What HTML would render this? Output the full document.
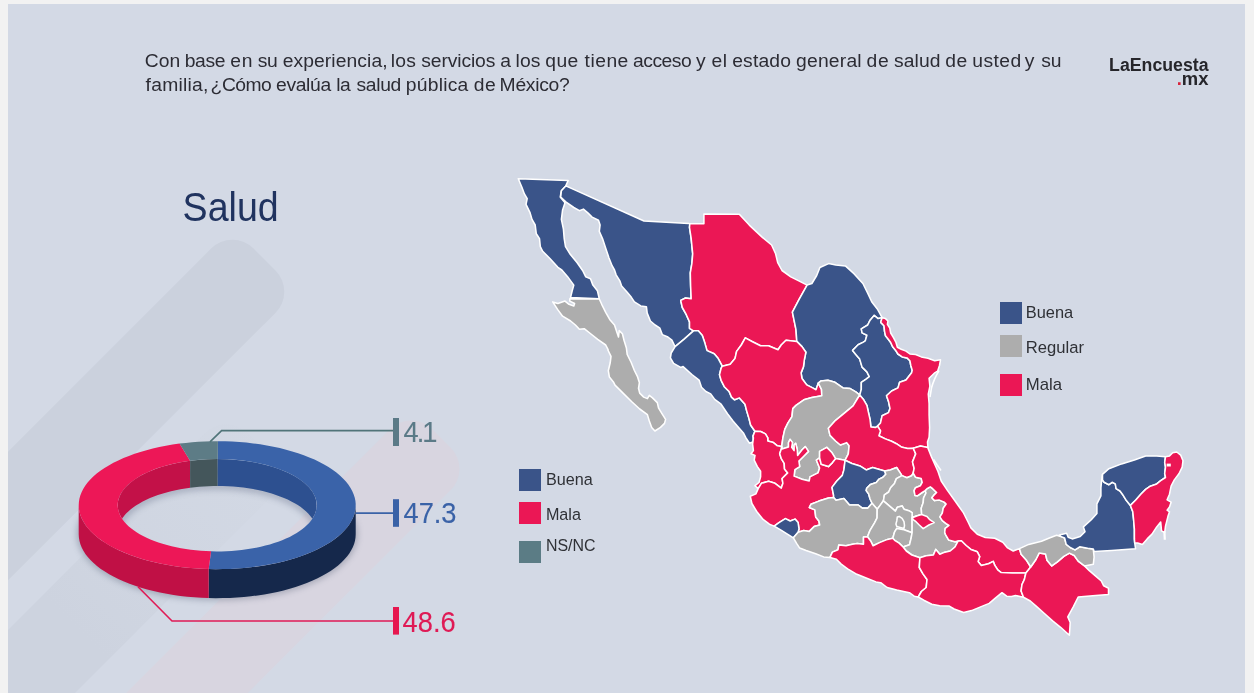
<!DOCTYPE html>
<html lang="es">
<head>
<meta charset="utf-8">
<title>Salud - LaEncuesta.mx</title>
<style>
html,body{margin:0;padding:0;}
body{width:1254px;height:693px;overflow:hidden;background:#f2f2f2;position:relative;font-family:"Liberation Sans",sans-serif;}
#panel{position:absolute;left:8px;top:4px;width:1237px;height:689px;background:#d3d9e5;overflow:hidden;}
#gfx{position:absolute;left:-8px;top:-4px;width:1254px;height:693px;display:block;}
</style>
</head>
<body>
<div id="panel">
<svg id="gfx" width="1254" height="693" viewBox="0 0 1254 693">
<defs><filter id="blur" x="-20%" y="-20%" width="140%" height="140%"><feGaussianBlur stdDeviation="3"/></filter></defs>
<g id="stripes"><defs><linearGradient id="gB" gradientUnits="userSpaceOnUse" x1="0" y1="0" x2="-260" y2="0"><stop offset="0" stop-color="#cfd5e0" stop-opacity="0.15"/><stop offset="1" stop-color="#cdd3df" stop-opacity="1"/></linearGradient></defs><rect x="-900" y="-45.5" width="900" height="91" rx="30" fill="#cbd1dd" opacity="1" transform="translate(264.5 259.5) rotate(-45)"/><rect x="-900" y="-46" width="900" height="92" rx="30" fill="url(#gB)" opacity="1" transform="translate(258.7 444.3) rotate(-45)"/><rect x="-900" y="-43" width="900" height="86" rx="30" fill="#d8d5e0" opacity="1" transform="translate(441.5 438.5) rotate(-45)"/></g>
<g id="donut">
<ellipse cx="217.2" cy="534.2" rx="136.5" ry="62" fill="none" stroke="#5a6378" stroke-width="8" opacity="0.4" filter="url(#blur)"/>
<path d="M355.7 505.2 L355.5 508.5 L355.0 511.7 L354.1 515.0 L352.8 518.2 L351.2 521.3 L349.3 524.5 L347.0 527.6 L344.3 530.6 L341.4 533.6 L338.1 536.4 L334.5 539.2 L330.6 542.0 L326.4 544.6 L321.9 547.1 L317.1 549.5 L312.1 551.8 L306.8 554.0 L301.3 556.0 L295.6 558.0 L289.7 559.7 L283.6 561.4 L277.3 562.9 L270.9 564.2 L264.3 565.4 L257.6 566.4 L250.8 567.3 L243.9 568.0 L236.9 568.5 L229.9 568.9 L222.9 569.1 L215.8 569.2 L208.7 569.1 L208.7 598.1 L215.8 598.2 L222.9 598.1 L229.9 597.9 L236.9 597.5 L243.9 597.0 L250.8 596.3 L257.6 595.4 L264.3 594.4 L270.9 593.2 L277.3 591.9 L283.6 590.4 L289.7 588.7 L295.6 587.0 L301.3 585.0 L306.8 583.0 L312.1 580.8 L317.1 578.5 L321.9 576.1 L326.4 573.6 L330.6 571.0 L334.5 568.2 L338.1 565.4 L341.4 562.6 L344.3 559.6 L347.0 556.6 L349.3 553.5 L351.2 550.3 L352.8 547.2 L354.1 544.0 L355.0 540.7 L355.5 537.5 L355.7 534.2Z" fill="#15284b"/>
<path d="M208.7 569.1 L201.6 568.8 L194.4 568.3 L187.3 567.7 L180.3 566.9 L173.5 565.9 L166.7 564.8 L160.0 563.5 L153.5 562.0 L147.2 560.4 L141.1 558.7 L135.2 556.8 L129.5 554.7 L124.0 552.6 L118.8 550.3 L113.9 547.8 L109.2 545.3 L104.9 542.6 L100.8 539.9 L97.0 537.0 L93.6 534.1 L90.5 531.1 L87.8 528.0 L85.4 524.9 L83.4 521.7 L81.7 518.4 L80.4 515.2 L79.5 511.9 L78.9 508.5 L78.7 505.2 L78.7 534.2 L78.9 537.5 L79.5 540.9 L80.4 544.2 L81.7 547.4 L83.4 550.7 L85.4 553.9 L87.8 557.0 L90.5 560.1 L93.6 563.1 L97.0 566.0 L100.8 568.9 L104.9 571.6 L109.2 574.3 L113.9 576.8 L118.8 579.3 L124.0 581.6 L129.5 583.7 L135.2 585.8 L141.1 587.7 L147.2 589.4 L153.5 591.0 L160.0 592.5 L166.7 593.8 L173.5 594.9 L180.3 595.9 L187.3 596.7 L194.4 597.3 L201.6 597.8 L208.7 598.1Z" fill="#c01045"/>
<clipPath id="hole"><ellipse cx="217.2" cy="505.2" rx="99.5" ry="46.2"/></clipPath>
<ellipse cx="217.2" cy="532.2" rx="99.5" ry="46.2" fill="none" stroke="#6f7890" stroke-width="7" opacity="0.45" filter="url(#blur)" clip-path="url(#hole)"/>
<path d="M117.7 503.2 L117.8 500.8 L118.2 498.4 L118.9 496.0 L119.8 493.7 L121.0 491.4 L122.5 489.1 L124.2 486.8 L126.1 484.6 L128.3 482.4 L130.8 480.3 L133.4 478.3 L136.3 476.3 L139.4 474.4 L142.7 472.6 L146.3 470.8 L150.0 469.1 L153.9 467.6 L157.9 466.1 L162.1 464.7 L166.5 463.5 L171.0 462.3 L175.6 461.2 L180.4 460.3 L185.2 459.5 L190.1 458.7 L190.1 487.7 L185.2 488.5 L180.4 489.3 L175.6 490.2 L171.0 491.3 L166.5 492.5 L162.1 493.7 L157.9 495.1 L153.9 496.6 L150.0 498.1 L146.3 499.8 L142.7 501.6 L139.4 503.4 L136.3 505.3 L133.4 507.3 L130.8 509.3 L128.3 511.4 L126.1 513.6 L124.2 515.8 L122.5 518.1 L121.0 520.4 L119.8 522.7 L118.9 525.0 L118.2 527.4 L117.8 529.8 L117.7 532.2Z" fill="#c31148" clip-path="url(#hole)"/>
<path d="M190.1 458.7 L194.6 458.2 L199.2 457.8 L203.8 457.4 L208.4 457.2 L213.1 457.0 L217.7 457.0 L217.7 486.0 L213.1 486.0 L208.4 486.2 L203.8 486.4 L199.2 486.8 L194.6 487.2 L190.1 487.7Z" fill="#44565b" clip-path="url(#hole)"/>
<path d="M217.7 457.0 L222.9 457.1 L228.1 457.3 L233.2 457.6 L238.3 458.1 L243.4 458.6 L248.3 459.3 L253.2 460.1 L258.0 461.1 L262.7 462.1 L267.3 463.3 L271.7 464.5 L275.9 465.9 L280.0 467.4 L284.0 469.0 L287.7 470.6 L291.3 472.4 L294.7 474.2 L297.8 476.1 L300.8 478.1 L303.5 480.2 L305.9 482.3 L308.2 484.5 L310.1 486.7 L311.9 489.0 L313.3 491.3 L314.5 493.6 L315.5 496.0 L316.2 498.4 L316.6 500.8 L316.7 503.2 L316.7 532.2 L316.6 529.8 L316.2 527.4 L315.5 525.0 L314.5 522.6 L313.3 520.3 L311.9 518.0 L310.1 515.7 L308.2 513.5 L305.9 511.3 L303.5 509.2 L300.8 507.1 L297.8 505.1 L294.7 503.2 L291.3 501.4 L287.7 499.6 L284.0 498.0 L280.0 496.4 L275.9 494.9 L271.7 493.5 L267.3 492.3 L262.7 491.1 L258.0 490.1 L253.2 489.1 L248.3 488.3 L243.4 487.6 L238.3 487.1 L233.2 486.6 L228.1 486.3 L222.9 486.1 L217.7 486.0Z" fill="#2d5090" clip-path="url(#hole)"/>
<path d="M217.9 441.2 L225.1 441.3 L232.2 441.6 L239.3 442.0 L246.3 442.6 L253.2 443.4 L260.1 444.3 L266.8 445.4 L273.4 446.7 L279.8 448.1 L286.1 449.7 L292.2 451.4 L298.1 453.3 L303.8 455.3 L309.3 457.4 L314.5 459.6 L319.4 462.0 L324.1 464.5 L328.5 467.1 L332.6 469.8 L336.4 472.6 L339.9 475.5 L343.0 478.5 L345.9 481.5 L348.3 484.6 L350.4 487.7 L352.2 490.9 L353.6 494.2 L354.7 497.4 L355.4 500.7 L355.7 504.0 L355.6 507.3 L355.2 510.6 L354.4 513.9 L353.3 517.2 L351.7 520.4 L349.9 523.6 L347.7 526.7 L345.1 529.8 L342.2 532.8 L338.9 535.7 L335.4 538.6 L331.5 541.4 L327.3 544.0 L322.8 546.6 L318.0 549.1 L313.0 551.4 L307.7 553.6 L302.2 555.7 L296.5 557.7 L290.5 559.5 L284.4 561.2 L278.0 562.7 L271.5 564.1 L264.9 565.3 L258.1 566.3 L251.2 567.2 L244.3 568.0 L237.2 568.5 L230.1 568.9 L223.0 569.1 L215.9 569.2 L208.7 569.1 L211.1 551.3 L216.3 551.4 L221.4 551.4 L226.5 551.2 L231.6 550.9 L236.7 550.5 L241.7 550.0 L246.6 549.3 L251.5 548.6 L256.2 547.7 L260.9 546.7 L265.4 545.6 L269.9 544.4 L274.1 543.1 L278.3 541.7 L282.2 540.2 L286.0 538.6 L289.7 536.9 L293.1 535.1 L296.3 533.2 L299.3 531.3 L302.1 529.3 L304.6 527.2 L307.0 525.1 L309.1 522.9 L310.9 520.7 L312.5 518.5 L313.9 516.2 L314.9 513.8 L315.8 511.5 L316.3 509.1 L316.6 506.7 L316.7 504.3 L316.5 502.0 L316.0 499.6 L315.2 497.2 L314.2 494.9 L312.9 492.6 L311.4 490.3 L309.6 488.1 L307.6 485.9 L305.3 483.8 L302.8 481.7 L300.1 479.7 L297.2 477.7 L294.0 475.8 L290.6 474.0 L287.1 472.3 L283.3 470.7 L279.4 469.2 L275.3 467.7 L271.1 466.4 L266.7 465.1 L262.2 464.0 L257.6 463.0 L252.8 462.1 L248.0 461.3 L243.1 460.6 L238.1 460.0 L233.0 459.6 L228.0 459.3 L222.8 459.1 L217.7 459.0Z" fill="#3a63a9"/>
<path d="M208.7 569.1 L201.6 568.8 L194.5 568.3 L187.4 567.7 L180.4 566.9 L173.5 565.9 L166.8 564.8 L160.1 563.5 L153.7 562.1 L147.4 560.5 L141.2 558.7 L135.3 556.8 L129.6 554.8 L124.2 552.6 L119.0 550.3 L114.1 547.9 L109.4 545.4 L105.0 542.7 L101.0 540.0 L97.2 537.2 L93.8 534.2 L90.7 531.2 L87.9 528.2 L85.5 525.0 L83.5 521.8 L81.8 518.6 L80.5 515.4 L79.5 512.1 L78.9 508.7 L78.7 505.4 L78.9 502.1 L79.4 498.8 L80.3 495.5 L81.6 492.2 L83.2 489.0 L85.2 485.8 L87.6 482.6 L90.3 479.6 L93.3 476.6 L96.7 473.6 L100.4 470.8 L104.5 468.0 L108.8 465.4 L113.4 462.8 L118.3 460.4 L123.5 458.1 L128.9 455.9 L134.6 453.8 L140.4 451.9 L146.5 450.2 L152.8 448.5 L159.3 447.1 L165.9 445.8 L172.6 444.6 L179.5 443.6 L190.1 460.7 L185.2 461.5 L180.3 462.3 L175.6 463.2 L170.9 464.3 L166.4 465.5 L162.1 466.7 L157.8 468.1 L153.8 469.6 L149.9 471.2 L146.2 472.9 L142.6 474.6 L139.3 476.4 L136.2 478.4 L133.3 480.4 L130.7 482.4 L128.2 484.5 L126.0 486.7 L124.1 488.9 L122.4 491.2 L120.9 493.5 L119.8 495.8 L118.9 498.2 L118.2 500.6 L117.8 503.0 L117.7 505.4 L117.9 507.8 L118.3 510.1 L119.0 512.5 L119.9 514.9 L121.1 517.2 L122.6 519.5 L124.3 521.8 L126.3 524.0 L128.5 526.2 L131.0 528.3 L133.7 530.3 L136.6 532.3 L139.7 534.2 L143.1 536.0 L146.6 537.8 L150.4 539.4 L154.3 541.0 L158.4 542.5 L162.6 543.8 L167.0 545.1 L171.6 546.3 L176.2 547.3 L181.0 548.2 L185.8 549.0 L190.8 549.7 L195.8 550.3 L200.9 550.8 L206.0 551.1 L211.1 551.3Z" fill="#ed1757"/>
<path d="M179.5 443.6 L185.8 442.9 L192.1 442.3 L198.5 441.8 L205.0 441.5 L211.4 441.3 L217.9 441.2 L217.7 459.0 L213.1 459.0 L208.4 459.2 L203.8 459.4 L199.2 459.8 L194.6 460.2 L190.1 460.7Z" fill="#5d7c86"/>
</g>
<g id="leaders" fill="none" stroke-width="1.6">
<path d="M210 441.8 L221.6 430.6 H394" stroke="#507479"/>
<path d="M355.5 513.1 H394" stroke="#3a62a7"/>
<path d="M138 586.8 L172 621 H394" stroke="#e01a55"/>
</g>
<rect x="393" y="418" width="6" height="28" fill="#5b7a87"/>
<rect x="393" y="499.2" width="6" height="27.6" fill="#3a62a7"/>
<rect x="393" y="607" width="6" height="27.6" fill="#e6174f"/>
<g id="map" stroke="#ffffff" stroke-width="1.55" stroke-linejoin="round">
<path fill="#3a5489" d="M518.3 178.8 L568.2 180.4 L565.8 185.9 L561.4 190.7 L560.2 197.1 L565 202.7 L562.6 209.9 L561.4 219.4 L563.4 229 L564.2 238.6 L565.5 246.6 L569.8 253.7 L577 262.5 L582.6 270.5 L585.8 276.9 L590.5 278.8 L592.9 285.1 L597.4 290.7 L599.3 298.7 L570.6 297.4 L572.2 290.7 L573.8 285.1 L567.4 276.4 L561.8 270 L557.9 267.3 L549.9 258.5 L542.7 251.3 L540.3 246.6 L539.5 238.6 L536.3 233.8 L535.2 225 L532 219.4 L529.9 212.3 L526 204.3 L527.2 198.7 L524.4 193.9 L522 187.5Z"></path>
<path fill="#adadad" d="M552.7 301.9 L557.9 303.5 L565 301.1 L569 304.3 L573.8 305.9 L574.6 303.5 L569.8 301.1 L569.8 298.7 L599.3 299 L601.7 304.3 L605.7 312.3 L609.7 319.4 L614.5 325 L616.9 332.2 L618.5 337 L619.2 330.6 L622.4 333.8 L624 340.2 L626.4 348.1 L627.2 354.5 L631.2 362.5 L634.4 370.5 L637.6 376.9 L639.4 382.7 L638.5 388.3 L639.7 393.1 L643.7 397.1 L647.4 398.6 L649.3 395.4 L652.5 397.9 L657.3 402.6 L658.6 408.2 L662.1 413.8 L665.6 419.4 L664.5 423.4 L660.5 427.4 L654.9 431 L651.7 427.4 L649.3 421 L647.4 414.6 L639.7 409 L631.8 401.8 L623.8 393.9 L615 385.1 L613.4 381.9 L609.4 377.1 L608.3 370.7 L610.2 362.8 L611 356.4 L607.9 350 L608.1 349.7 L605.7 345 L597.7 339.4 L589.7 333 L584.2 328.7 L579.4 329.3 L575.4 325 L570.6 321 L562.6 316.2 L557.9 309.9Z"></path>
<path fill="#3a5489" d="M565.8 185.9 L644 221 L688.6 223.4 L689.8 223.7 L689.5 227.5 L691.1 237.8 L692.7 253.8 L691.9 263.4 L690.3 272.9 L690.6 285.7 L691.1 296.9 L691.1 298.8 L685.5 298 L680.7 300.4 L682.3 307.5 L686.3 314.7 L689.5 321.9 L689.5 328.3 L693.5 330.8 L683.9 339.4 L675.1 346.6 L675.1 346.6 L674.3 345 L671.9 340.2 L667.9 337 L662.3 334.6 L659.9 328.2 L655.1 325 L650.4 321 L647.2 313.1 L646.4 306.7 L640.8 305.9 L634.4 301.9 L631.2 297.1 L627.2 292.3 L621.6 285.9 L620 281.2 L616.1 274.8 L614.5 270 L612.1 265.7 L608.9 257.7 L605.7 248.2 L602.5 238.6 L599.3 231.4 L600.1 225 L598.5 220.2 L592.1 217.1 L588.1 213.1 L583.4 209.1 L579.4 210.7 L573.8 207.5 L565.8 201.9 L560.7 197.1 L561.4 190.7 L565.8 185.9Z"></path>
<path fill="#eb1755" d="M689.8 223.7 L703.9 223.8 L703.9 213.9 L739.3 214.2 L749.3 225.1 L762.1 237.1 L771.6 245 L775.6 253.8 L777.7 262.6 L782 270.5 L790.8 276.9 L798.8 280.9 L807.1 285.1 L799.1 299.4 L792.4 312.2 L796 329.7 L796.8 341.4 L786 340.2 L781.2 345 L778 349.8 L768.5 345.8 L760.5 345.8 L752.5 341.8 L745.3 337.9 L741.3 345 L736.6 351.4 L735 358.6 L730.2 364.2 L722.2 366.2 L718.2 358.6 L714.2 353.8 L707 350.6 L704.7 342.6 L702.3 335.4 L698.3 330.7 L693.5 330.8 L689.5 328.3 L689.5 321.9 L686.3 314.7 L682.3 307.5 L680.7 300.4 L685.5 298 L691.1 298.8 L691.1 296.9 L690.6 285.7 L690.3 272.9 L691.9 263.4 L692.7 253.8 L691.1 237.8 L689.5 227.5 L689.8 223.7Z"></path>
<path fill="#3a5489" d="M807.1 285.1 L811.9 283.5 L816.7 275.5 L819.9 267.5 L828.6 263.6 L835.8 265.1 L845.4 265.9 L854.2 273.9 L862.9 283.5 L867.7 293.1 L871.7 301.8 L877.3 309 L882.1 317.7 L878.1 318.6 L874.1 315.4 L870.1 320.2 L867.7 325 L861.3 328.9 L862.1 332.9 L866.9 335.3 L865.3 340.9 L862.9 342.4 L858.1 344.8 L852.6 350.4 L855.8 354.4 L859.7 359.1 L862.1 367.1 L866.9 371.9 L869.3 376.7 L866.1 379.1 L861.3 382.3 L861.3 389.4 L859.7 395 L855.8 391.8 L850.2 388.6 L843 387.9 L835 382.3 L827.9 380.2 L820.7 381.1 L818.3 383.1 L816 389.7 L813.1 388.1 L806.7 384.9 L802 378.5 L801.1 372.9 L803.5 366.6 L804.3 360.2 L805.9 352.2 L802 346.6 L796.8 341.4 L796 329.7 L792.4 312.2 L799.1 299.4 L807.1 285.1Z"></path>
<path fill="#3a5489" d="M882.1 317.7 L880.7 322.4 L884 325.8 L884.5 331.1 L885.5 335.8 L887.9 338.7 L890.7 342.5 L892.6 346.8 L895.5 350.2 L897.9 354 L902.2 356.9 L907 357.9 L909.9 360.7 L910.8 365.5 L912.2 370.3 L911.6 372.7 L906 379.9 L899.6 382.3 L898 387.9 L891.6 391 L886.5 395.8 L888.5 401.4 L890 408.6 L888.5 412.6 L882.1 415.8 L880.5 422.9 L877.6 426.1 L875.7 427.4 L870.9 426.9 L870.1 419.7 L868.5 412.6 L866.9 405.4 L863.7 399.8 L859.7 395 L861.3 389.4 L861.3 382.3 L866.1 379.1 L869.3 376.7 L866.9 371.9 L862.1 367.1 L859.7 359.1 L855.8 354.4 L852.6 350.4 L858.1 344.8 L862.9 342.4 L865.3 340.9 L866.9 335.3 L862.1 332.9 L861.3 328.9 L867.7 325 L870.1 320.2 L874.1 315.4 L878.1 318.6 L882.1 317.7Z"></path>
<path fill="#eb1755" d="M882.1 317.7 L885.5 318.6 L887.9 321 L887.4 324.4 L889.8 328.2 L890.7 333 L893.6 337.8 L896 342.5 L897.4 347.3 L901.2 349.2 L906 351.1 L909.9 354 L915.6 354.5 L921.3 356.9 L928 358.3 L934.7 360.7 L940.5 359.8 L939.5 365.5 L937.6 371.2 L934.3 373.2 L929.1 378.3 L929.9 386.2 L928.3 394.2 L929.1 403.8 L929.1 415 L929.6 427.7 L929.1 437.3 L927.5 442.1 L928 448.4 L927.7 447.5 L920.5 445.9 L913.3 448.3 L907.6 448.4 L901.2 446.9 L896.4 443.7 L891.6 441.3 L885.3 438.9 L878.9 435.7 L880.5 430.9 L877.6 426.1 L880.5 422.9 L882.1 415.8 L888.5 412.6 L890 408.6 L888.5 401.4 L886.5 395.8 L891.6 391 L898 387.9 L899.6 382.3 L906 379.9 L911.6 372.7 L912.2 370.3 L910.8 365.5 L909.9 360.7 L907 357.9 L902.2 356.9 L897.9 354 L895.5 350.2 L892.6 346.8 L890.7 342.5 L887.9 338.7 L885.5 335.8 L884.5 331.1 L884 325.8 L880.7 322.4 L882.1 317.7Z"></path>
<path fill="#3a5489" d="M675.1 346.6 L671.2 353 L670.4 357.8 L673.6 363.4 L680.7 367.4 L683.1 366.6 L691.9 374.5 L699.1 380.1 L701.5 387.3 L705.9 391.5 L710.7 393.9 L714.7 399.4 L721.1 404.2 L727.5 413.8 L733 421 L738.6 427.4 L743.4 432.9 L745.8 437.7 L749.5 443.3 L753.3 441.7 L753 436.1 L754.9 431.3 L750.6 425 L749 418.6 L746.6 410.6 L745 404.2 L739.4 397.9 L734.6 399.8 L731.5 397.1 L729.1 391.5 L724.3 386.7 L721.1 380.3 L719.5 374.7 L721.1 368.3 L722.2 366.2 L718.2 358.6 L714.2 353.8 L707 350.6 L704.7 342.6 L702.3 335.4 L698.3 330.7 L693.5 330.8 L683.9 339.4 L675.1 346.6Z"></path>
<path fill="#eb1755" d="M796.8 341.4 L802 346.6 L805.9 352.2 L804.3 360.2 L803.5 366.6 L801.1 372.9 L802 378.5 L806.7 384.9 L813.1 388.1 L816 389.7 L818.3 383.1 L821.5 389.4 L821.8 395.8 L811.9 397.4 L803.9 399.8 L796 405.4 L792.8 408.6 L792 416.6 L788 422.9 L784.8 429.3 L782.9 437.9 L781.7 446.6 L777.4 445.8 L773.4 442.6 L767.8 441 L767.8 437.9 L765.4 433.9 L760.6 431.5 L754.9 431.3 L750.6 425 L749 418.6 L746.6 410.6 L745 404.2 L739.4 397.9 L734.6 399.8 L731.5 397.1 L729.1 391.5 L724.3 386.7 L721.1 380.3 L719.5 374.7 L721.1 368.3 L722.2 366.2 L730.2 364.2 L735 358.6 L736.6 351.4 L741.3 345 L745.3 337.9 L752.5 341.8 L760.5 345.8 L768.5 345.8 L778 349.8 L781.2 345 L786 340.2 L796.8 341.4Z"></path>
<path fill="#adadad" d="M818.3 383.1 L820.7 381.1 L827.9 380.2 L835 382.3 L843 387.9 L850.2 388.6 L855.8 391.8 L859.7 395 L853.1 405.9 L843.5 413.9 L835.6 420.3 L828.4 428.3 L830 435.4 L835.6 441 L840.4 445 L846.7 442.6 L849.1 445.8 L848.3 453.8 L845.1 460.2 L835.6 458.6 L831.6 452.2 L826.8 447.4 L819.6 451.4 L819.6 457.8 L816.4 460.2 L819.6 468.1 L818 472.9 L810 476.9 L809.2 480.9 L802.1 479.3 L794.1 476.1 L794.9 469.7 L799.7 466.6 L798.9 461 L803.7 456.2 L808.5 451.4 L805.3 446.6 L802.1 449.8 L797.6 455.4 L797.3 449.8 L795.7 443.4 L794.1 445 L794.1 450.6 L791.7 447.4 L792.5 442.6 L790.1 439.4 L788.5 442.6 L788.5 447.1 L782.1 449 L781.7 446.6 L782.9 437.9 L784.8 429.3 L788 422.9 L792 416.6 L792.8 408.6 L796 405.4 L803.9 399.8 L811.9 397.4 L821.8 395.8 L821.5 389.4 L818.3 383.1Z"></path>
<path fill="#eb1755" d="M859.7 395 L863.7 399.8 L866.9 405.4 L868.5 412.6 L870.1 419.7 L870.9 426.9 L875.7 427.4 L877.6 426.1 L880.5 430.9 L878.9 435.7 L885.3 438.9 L891.6 441.3 L896.4 443.7 L901.2 446.9 L907.6 448.4 L913.3 448.3 L915.7 453.9 L912.5 461.9 L914.1 468.3 L913.2 473.1 L911.7 475.7 L906.9 477.7 L901.9 475.6 L900.2 472.9 L896.6 467.5 L890.2 469.9 L884.7 471.1 L872.6 467.5 L866.2 469.9 L859.9 465.9 L851.9 463.5 L845.1 460.2 L848.3 453.8 L849.1 445.8 L846.7 442.6 L840.4 445 L835.6 441 L830 435.4 L828.4 428.3 L835.6 420.3 L843.5 413.9 L853.1 405.9 L859.7 395Z"></path>
<path fill="#eb1755" d="M753 436.1 L753.4 437.9 L752.6 444.2 L753.4 450.6 L751 453.8 L755 455.4 L754.2 460.2 L757.4 466.6 L760.6 471.3 L760.6 476.9 L759 482.5 L755 485.7 L758.2 488.6 L761.4 483.3 L768.6 481.2 L775 483.3 L781.3 488.1 L782.9 483.3 L782.1 478.5 L787.7 472.9 L784.5 468.9 L784.2 463.4 L781.3 458.6 L779.7 453.8 L781.3 449 L781.7 446.6 L777.4 445.8 L773.4 442.6 L767.8 441 L767.8 437.9 L765.4 433.9 L760.6 431.5 L754.9 431.3 L753 436.1Z"></path>
<path fill="#eb1755" d="M781.7 446.6 L782.1 449 L788.5 447.1 L788.5 442.6 L790.1 439.4 L792.5 442.6 L791.7 447.4 L794.1 450.6 L794.1 445 L795.7 443.4 L797.3 449.8 L797.6 455.4 L802.1 449.8 L805.3 446.6 L808.5 451.4 L803.7 456.2 L798.9 461 L799.7 466.6 L794.9 469.7 L794.1 476.1 L802.1 479.3 L809.2 480.9 L810 476.9 L818 472.9 L819.6 468.1 L816.4 460.2 L819.6 457.8 L821.2 464.2 L828.4 466.6 L832.4 462.6 L835.6 458.6 L845.1 460.2 L843.9 469.9 L842.3 475.4 L836.8 481 L832 487.4 L833.6 495.4 L833.6 497.4 L828.5 497.9 L818.9 501.1 L810.9 504.3 L809.3 507.5 L814.9 509.9 L815.7 517 L818.9 521 L819.7 525 L814.1 526.6 L809.3 531.4 L803.7 530.6 L798.1 532.2 L799 529 L798.1 522.6 L795 519.1 L790.2 521 L785.4 518.6 L779 522.6 L774.2 526.1 L769.4 524.2 L763.1 519.4 L756.7 511.5 L751.9 503.5 L750.3 496.3 L755.9 493.9 L758.2 488.6 L761.4 483.3 L768.6 481.2 L775 483.3 L781.3 488.1 L782.9 483.3 L782.1 478.5 L787.7 472.9 L784.5 468.9 L784.2 463.4 L781.3 458.6 L779.7 453.8 L781.3 449 L781.7 446.6Z"></path>
<path fill="#eb1755" d="M835.6 458.6 L831.6 452.2 L826.8 447.4 L819.6 451.4 L819.6 457.8 L821.2 464.2 L828.4 466.6 L832.4 462.6 L835.6 458.6Z"></path>
<path fill="#3a5489" d="M845.1 460.2 L851.9 463.5 L859.9 465.9 L866.2 469.9 L872.6 467.5 L884.7 471.1 L885.8 474.3 L883 477.2 L879.1 479.1 L876.3 482.4 L870.5 484.4 L866.7 488.2 L866.2 490.6 L868.6 493.9 L870 498.7 L872 503.3 L867.9 508.1 L862.3 508.1 L858.3 505 L849.5 505 L843.9 498.6 L836 500.2 L833.6 497.4 L833.6 495.4 L832 487.4 L836.8 481 L842.3 475.4 L843.9 469.9 L845.1 460.2Z"></path>
<path fill="#adadad" d="M884.7 471.1 L890.2 469.9 L896.6 467.5 L900.2 472.9 L901.9 475.6 L896.4 478.6 L894.5 483.4 L890.6 487.7 L888.7 492 L884.4 494.9 L883.4 500.8 L880.1 505.4 L877.2 509.2 L872 503.3 L870 498.7 L868.6 493.9 L866.2 490.6 L866.7 488.2 L870.5 484.4 L876.3 482.4 L879.1 479.1 L883 477.2 L885.8 474.3 L884.7 471.1Z"></path>
<path fill="#adadad" d="M901.9 475.6 L906.9 477.7 L911.7 475.7 L913.2 473.1 L915.5 477.2 L921.2 478.6 L922.2 482.4 L920.3 485.8 L915.5 487.7 L914.1 490.6 L915 495.4 L917.4 495.8 L922.2 492.5 L925.1 490.6 L926 493 L923.6 497.8 L923.2 502.5 L921.2 508.3 L921.7 514.6 L917.4 515.7 L912.1 517.6 L912.1 512.6 L908.8 510.7 L904 509.2 L902.1 505.9 L897.3 507.3 L895.4 511.1 L888.7 505.4 L883.4 500.8 L884.4 494.9 L888.7 492 L890.6 487.7 L894.5 483.4 L896.4 478.6 L901.9 475.6Z"></path>
<path fill="#3a5489" d="M774.2 526.1 L779 522.6 L785.4 518.6 L790.2 521 L795 519.1 L798.1 522.6 L799 529 L798.1 532.2 L793.4 537.8 L787 533.8 L780.6 529.8 L774.2 526.1Z"></path>
<path fill="#adadad" d="M833.6 497.4 L836 500.2 L843.9 498.6 L849.5 505 L858.3 505 L862.3 508.1 L867.9 508.1 L872 503.3 L877.2 509.2 L877.1 517.9 L874.7 522.6 L869.9 530.6 L867.5 536.7 L863.5 537 L863.5 544.2 L857.2 543.4 L852.4 544.2 L846 545.8 L838.8 545 L838 549.7 L832.4 552.1 L830 557.4 L823.7 556.9 L815.7 553.7 L806.1 550.5 L799.7 548.1 L796.6 543.4 L793.4 537.8 L798.1 532.2 L803.7 530.6 L809.3 531.4 L814.1 526.6 L819.7 525 L818.9 521 L815.7 517 L814.9 509.9 L809.3 507.5 L810.9 504.3 L818.9 501.1 L828.5 497.9 L833.6 497.4Z"></path>
<path fill="#adadad" d="M877.2 509.2 L880.1 505.4 L883.4 500.8 L888.7 505.4 L895.4 511.1 L897.3 507.3 L902.1 505.9 L904 509.2 L908.8 510.7 L912.1 512.6 L912.1 517.6 L912.1 523.6 L912.1 529.3 L912.1 532.7 L904 529.8 L896.8 528.4 L894.5 532.2 L892.8 538.3 L887.5 539.4 L879.5 542.6 L873.1 545.8 L870.7 541 L867.5 536.7 L869.9 530.6 L874.7 522.6 L877.1 517.9 L877.2 509.2Z"></path>
<path fill="#adadad" d="M892.8 538.3 L894.5 532.2 L896.8 528.4 L904 529.8 L912.1 532.7 L911.1 538.3 L909.5 544.7 L903.1 547 L899.1 543.1 L895.1 540.7 L892.8 538.3Z"></path>
<path fill="#adadad" d="M921.7 514.6 L921.2 508.3 L923.2 502.5 L923.6 497.8 L926 493 L925.1 490.6 L927 488.7 L930.3 486.8 L932.7 488.7 L936.6 492.5 L933.7 495.4 L931.8 497.8 L934.6 500.6 L939.4 500.1 L944.2 502.1 L946.1 504 L943.2 508.3 L942.3 513.1 L939.9 516.9 L942.3 520.7 L946.1 523.6 L949 525.5 L945.2 528.4 L944.7 532.2 L945.4 534.3 L948.6 539.9 L955 541.8 L958.1 541.1 L955 547 L950.2 551 L943.8 552.6 L939.8 554.2 L935.8 549.4 L933.4 555 L926.2 555.8 L919.9 557.7 L911.9 555 L906.3 551 L903.1 547 L909.5 544.7 L911.1 538.3 L912.1 532.7 L912.1 529.3 L912.1 523.6 L912.1 517.6 L917.4 515.7 L921.7 514.6Z"></path>
<path fill="#eb1755" d="M927.7 447.5 L931.6 457.1 L938 471.5 L941.2 481 L947.6 490.6 L955.6 501.8 L963.5 512.9 L968.3 522.5 L970.9 527.9 L977.3 534.3 L985.3 537.5 L994.8 538.3 L1002.8 542.3 L1007.6 547.9 L1013.2 551 L1019.5 548.6 L1021.1 554.2 L1026.7 560.6 L1030.7 567 L1025.9 573 L1012.4 573 L1001.2 572.6 L998 570.2 L994.8 565.4 L993.2 561.4 L988.5 563.8 L981.3 565.4 L978.1 561.4 L979.7 556.6 L977.3 551.8 L970.9 549.4 L966.1 545.5 L961.3 540.7 L958.1 541.1 L955 541.8 L948.6 539.9 L945.4 534.3 L944.7 532.2 L945.2 528.4 L949 525.5 L946.1 523.6 L942.3 520.7 L939.9 516.9 L942.3 513.1 L943.2 508.3 L946.1 504 L944.2 502.1 L939.4 500.1 L934.6 500.6 L931.8 497.8 L933.7 495.4 L936.6 492.5 L932.7 488.7 L930.3 486.8 L927 488.7 L925.1 490.6 L922.2 492.5 L917.4 495.8 L915 495.4 L914.1 490.6 L915.5 487.7 L920.3 485.8 L922.2 482.4 L921.2 478.6 L915.5 477.2 L913.2 473.1 L914.1 468.3 L912.5 461.9 L915.7 453.9 L913.3 448.3 L920.5 445.9 L927.7 447.5Z"></path>
<path fill="#eb1755" d="M830 557.4 L832.4 552.1 L838 549.7 L838.8 545 L846 545.8 L852.4 544.2 L857.2 543.4 L863.5 544.2 L863.5 537 L867.5 536.7 L870.7 541 L873.1 545.8 L879.5 542.6 L887.5 539.4 L892.8 538.3 L895.1 540.7 L899.1 543.1 L903.1 547 L906.3 551 L911.9 555 L919.9 557.7 L919.3 567.5 L923 573.9 L927 579.5 L926.2 587.5 L921.4 591.5 L918.2 597 L914.2 596.2 L909.4 592.7 L896.7 589.9 L887.1 587.5 L880.7 582.7 L876 581.9 L868 578.7 L860 575.5 L855.6 573.7 L847.6 568.9 L841.2 564.1 L836.4 559.3 L830 557.4Z"></path>
<path fill="#eb1755" d="M919.9 557.7 L926.2 555.8 L933.4 555 L935.8 549.4 L939.8 554.2 L943.8 552.6 L950.2 551 L955 547 L958.1 541.1 L961.3 540.7 L966.1 545.5 L970.9 549.4 L977.3 551.8 L979.7 556.6 L978.1 561.4 L981.3 565.4 L988.5 563.8 L993.2 561.4 L994.8 565.4 L998 570.2 L1001.2 572.6 L1012.4 573 L1025.9 573 L1024.3 579.7 L1022 584.5 L1021.1 590.9 L1023.5 597.3 L1015.5 595.5 L1011.5 596.6 L1006.7 596.2 L1002 592.7 L995.6 597.9 L989.2 603.4 L981.2 606.6 L971.6 610.6 L963.7 612.5 L954.1 609 L949.3 606.1 L939.7 605.8 L931.8 604.2 L923.8 600.2 L918.2 597 L921.4 591.5 L926.2 587.5 L927 579.5 L923 573.9 L919.3 567.5 L919.9 557.7Z"></path>
<path fill="#eb1755" d="M1025.9 573 L1030.7 567 L1035.9 559.5 L1039.1 553.1 L1045.5 553.9 L1047 560.3 L1051.8 565.9 L1057.4 561.9 L1063.8 556.3 L1069.4 553.1 L1074.2 555.5 L1078.2 561.1 L1084.5 565.9 L1089.3 570.7 L1095.7 576.2 L1101.3 581 L1103.7 585.8 L1108.5 588.2 L1108.5 594.6 L1095.7 595.4 L1078.2 597 L1073.4 606.6 L1067.8 616.9 L1070.2 622.5 L1069.4 635.3 L1060.6 627.3 L1052.6 620.9 L1044.7 613.7 L1036.7 606.6 L1030.3 601 L1023.5 597.3 L1021.1 590.9 L1022 584.5 L1024.3 579.7 L1025.9 573Z"></path>
<path fill="#adadad" d="M1019.5 548.6 L1028.7 544.4 L1041.5 541.2 L1049.4 538 L1056.6 535.3 L1060.6 536.4 L1064.6 538 L1066.2 544.4 L1070.2 547.5 L1075 549.9 L1079.7 546.8 L1087.7 548.3 L1093.3 549.1 L1094.1 557.1 L1093.3 564.3 L1084.5 565.9 L1078.2 561.1 L1074.2 555.5 L1069.4 553.1 L1063.8 556.3 L1057.4 561.9 L1051.8 565.9 L1047 560.3 L1045.5 553.9 L1039.1 553.1 L1035.9 559.5 L1030.7 567 L1026.7 560.6 L1021.1 554.2 L1019.5 548.6Z"></path>
<path fill="#3a5489" d="M1060.6 536.4 L1059.4 534.9 L1066.6 533.3 L1068.2 537.3 L1072.2 538.9 L1080.2 536.5 L1085 531.7 L1083.4 526.9 L1091.3 519.7 L1096.9 513.4 L1096.9 503.8 L1100.9 495.8 L1100.9 487.9 L1101.7 479.9 L1102.5 474.3 L1102.5 479.9 L1104.1 482.3 L1108.9 484.7 L1112.1 482.3 L1115.3 483.9 L1116.1 488.6 L1120 491 L1122.4 494.2 L1126.4 500.6 L1130.4 505.4 L1132.8 511.8 L1133.6 519.7 L1134.4 529.3 L1134.4 538.9 L1134.7 542.9 L1135.6 548.8 L1111.6 550.4 L1094.1 551.5 L1093.3 549.1 L1087.7 548.3 L1079.7 546.8 L1075 549.9 L1070.2 547.5 L1066.2 544.4 L1064.6 538 L1060.6 536.4Z"></path>
<path fill="#3a5489" d="M1102.5 474.3 L1108.9 468.7 L1121.6 463.9 L1134.4 459.9 L1145.6 455.9 L1156.7 455.9 L1165.5 456.8 L1164.7 462.3 L1165.5 467.1 L1164.7 473.5 L1165.5 477.5 L1160.7 480.7 L1156.7 483.9 L1150.3 486.2 L1145.6 489.4 L1140.8 494.2 L1136 499.8 L1130.4 505.4 L1126.4 500.6 L1122.4 494.2 L1120 491 L1116.1 488.6 L1115.3 483.9 L1112.1 482.3 L1108.9 484.7 L1104.1 482.3 L1102.5 479.9 L1102.5 474.3Z"></path>
<path fill="#eb1755" d="M1165.5 456.8 L1169.5 455.9 L1172.7 452.8 L1176.7 452 L1180.7 455.1 L1183 460.7 L1182.2 467.1 L1179.1 473.5 L1174.3 479.9 L1171.1 486.2 L1169.5 494.2 L1167.1 499.8 L1171.1 502.2 L1169.5 507 L1167.1 510.2 L1169.5 511.8 L1167.9 516.6 L1165.5 526.1 L1164.7 532.5 L1161.5 530.9 L1160.7 522.1 L1156.7 526.9 L1152 534.1 L1147.2 538.9 L1142.4 544.5 L1137.6 542.9 L1134.7 542.9 L1134.4 538.9 L1134.4 529.3 L1133.6 519.7 L1132.8 511.8 L1130.4 505.4 L1136 499.8 L1140.8 494.2 L1145.6 489.4 L1150.3 486.2 L1156.7 483.9 L1160.7 480.7 L1165.5 477.5 L1164.7 473.5 L1165.5 467.1 L1164.7 462.3 L1165.5 456.8Z"></path>
<path fill="#eb1755" d="M912.8 517.4 L917.4 515.7 L921.7 514.6 L927 516.4 L929.4 519.3 L934.2 522.6 L928.9 525 L923.2 528.6 L919.3 525 L916 521.7 L912.8 519.3Z"></path>
<path fill="#adadad" d="M897.3 516.9 L899.2 516.4 L902.1 518.3 L904 521.7 L904.5 525.5 L904 528.4 L900.2 527.4 L896.8 526.5 L895.9 524.1 L896.8 520.7Z"></path>
<path fill="none" d="M939 370.5 Q933.5 380 931.5 388 L930 397"/>
<path fill="none" d="M933.6 459.5 L937.2 465 L941 470.5"/>
<path fill="none" stroke-width="2.2" d="M1164.4 531.5 L1164.8 539.8"/>
<path fill="#ffffff" stroke="none" d="M1166.6 463.6 h4.2 v2.9 h-4.2z"/>
</g>
<g id="legend">
<rect x="519" y="469" width="22" height="22" fill="#3a5489"/>
<rect x="519" y="502" width="22" height="22" fill="#eb1755"/>
<rect x="519" y="541" width="22" height="22" fill="#5b7c85"/>
<rect x="1000" y="302" width="22" height="22" fill="#3a5489"/>
<rect x="1000" y="335" width="22" height="22" fill="#adadad"/>
<rect x="1000" y="374" width="22" height="22" fill="#eb1755"/>
</g>
<g id="txt" font-family="'Liberation Sans', sans-serif">
<text id="q1" transform="scale(1.0547 1)" y="66.7" font-size="18.3" fill="#2c2c34"><tspan x="137.3" letter-spacing="-0.03">Con</tspan> <tspan x="175.2" letter-spacing="-0.36">base</tspan> <tspan x="218.4" letter-spacing="0.60">en</tspan> <tspan x="244.5" letter-spacing="-0.50">su</tspan> <tspan x="268.0" letter-spacing="0.08">experiencia,</tspan> <tspan x="370.5" letter-spacing="0.25">los</tspan> <tspan x="399.5" letter-spacing="-0.12">servicios</tspan> <tspan x="474.4" letter-spacing="0.00">a</tspan> <tspan x="488.7" letter-spacing="0.20">los</tspan> <tspan x="517.0" letter-spacing="0.41">que</tspan> <tspan x="554.3" letter-spacing="0.45">tiene</tspan> <tspan x="600.3" letter-spacing="-0.50">acceso</tspan> <tspan x="659.9" letter-spacing="0.00">y</tspan> <tspan x="674.6" letter-spacing="0.60">el</tspan> <tspan x="694.2" letter-spacing="0.17">estado</tspan> <tspan x="754.7" letter-spacing="0.21">general</tspan> <tspan x="821.6" letter-spacing="0.60">de</tspan> <tspan x="847.7" letter-spacing="0.08">salud</tspan> <tspan x="896.2" letter-spacing="0.60">de</tspan> <tspan x="921.8" letter-spacing="0.42">usted</tspan> <tspan x="971.7" letter-spacing="0.00">y</tspan> <tspan x="987.2" letter-spacing="0.03">su</tspan></text>
<text id="q2" transform="scale(1.0547 1)" y="91.5" font-size="18.3" fill="#2c2c34"><tspan x="138.0" letter-spacing="0.24">familia,</tspan> <tspan x="199.7" letter-spacing="-0.50">¿Cómo</tspan> <tspan x="261.7" letter-spacing="-0.31">evalúa</tspan> <tspan x="318.7" letter-spacing="-0.50">la</tspan> <tspan x="338.0" letter-spacing="-0.32">salud</tspan> <tspan x="384.7" letter-spacing="0.23">pública</tspan> <tspan x="449.1" letter-spacing="0.60">de</tspan> <tspan x="473.7" letter-spacing="-0.28">México?</tspan></text>
<text id="title" transform="translate(182.62 220.8) scale(0.9391 1)" font-size="40" fill="#20335f">Salud</text>
<text id="logo1" transform="translate(1109.07 70.6) scale(0.9855 1)" font-size="18" fill="#26262b" font-weight="bold">LaEncuesta</text>
<text id="logo2" transform="translate(1176.72 84.9) scale(1.0237 1)" font-size="18" fill="#26262b" font-weight="bold"><tspan fill="#d8243c">.</tspan>mx</text>
<text id="v1" transform="translate(403.6 441.9) scale(0.94 1)" font-size="29" fill="#5b7a87" letter-spacing="-2.157" stroke="#5b7a87" stroke-width="0.12">4.1</text>
<text id="v2" transform="translate(403.6 522.9) scale(0.94 1)" font-size="29" fill="#3a62a7" letter-spacing="-0.046" stroke="#3a62a7" stroke-width="0.12">47.3</text>
<text id="v3" transform="translate(402.4 631.9) scale(0.94 1)" font-size="29" fill="#df1a55" letter-spacing="0.096" stroke="#df1a55" stroke-width="0.12">48.6</text>
<text id="l1" transform="translate(546 484.9) scale(0.9313 1)" font-size="17.4" fill="#2f3136">Buena</text>
<text id="l2" transform="translate(545.91 519.7) scale(0.9297 1)" font-size="17.4" fill="#2f3136">Mala</text>
<text id="l3" transform="translate(545.92 551) scale(0.9173 1)" font-size="17.4" fill="#2f3136">NS/NC</text>
<text id="r1" transform="translate(1025.78 317.5) scale(0.9436 1)" font-size="17.4" fill="#2f3136">Buena</text>
<text id="r2" transform="translate(1025.77 352.6) scale(0.9553 1)" font-size="17.4" fill="#2f3136">Regular</text>
<text id="r3" transform="translate(1025.76 390.4) scale(0.9628 1)" font-size="17.4" fill="#2f3136">Mala</text>
</g>
</svg>
</div>
</body>
</html>
